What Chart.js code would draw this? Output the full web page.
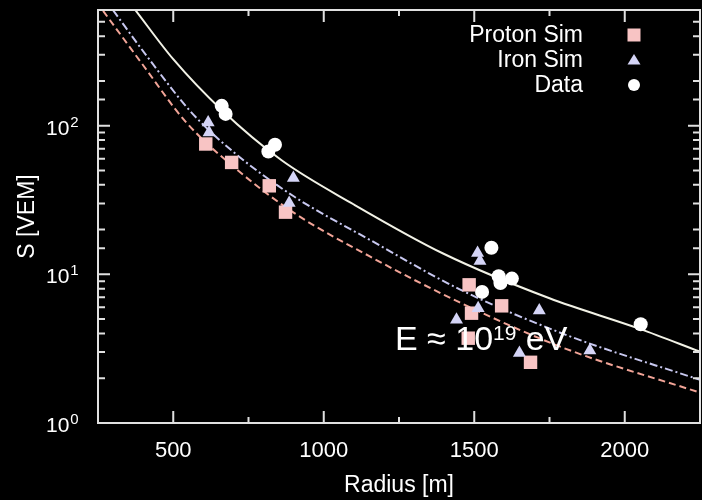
<!DOCTYPE html>
<html>
<head>
<meta charset="utf-8">
<script src="https://cdn.jsdelivr.net/npm/chart.js@4.4.1/dist/chart.umd.min.js"></script>
<style>
  html, body { margin: 0; padding: 0; background: #000; overflow: hidden; }
  #wrap { width: 702px; height: 500px; }
</style>
</head>
<body>
<div id="wrap"><canvas id="ldf"></canvas></div>
<script>
// Simulated and measured signals, radius in m, S in VEM
var protonR = [608, 694, 819, 873, 1483, 1491, 1591, 1480, 1687];
var protonS = [75.3, 56.6, 39.4, 26.2, 8.5, 5.48, 6.14, 3.72, 2.56];

var ironR = [616, 619, 899, 885, 1511, 1519, 1441, 1513, 1716, 1650, 1884];
var ironS = [105, 90, 44.4, 30.2, 13.9, 12.3, 4.94, 5.92, 5.71, 2.96, 3.07];

var dataR = [661, 674, 838, 816, 1557, 1581, 1587, 1625, 1526, 2053];
var dataS = [136, 120, 74.5, 67.1, 15.1, 9.7, 8.73, 9.36, 7.62, 4.62];

// fitted lateral distribution curves
var protonFitR = [267, 400, 540, 700, 900, 1150, 1450, 1800, 2250];
var protonFitS = [592, 255, 107, 53, 26, 13.3, 6.5, 3.18, 1.60];

var ironFitR = [300, 420, 560, 700, 900, 1150, 1450, 1800, 2250];
var ironFitS = [598, 280, 123, 66.5, 33.5, 17.2, 7.96, 3.95, 1.95];

var dataFitR = [372, 500, 660, 860, 1100, 1400, 1750, 2050, 2250];
var dataFitS = [607, 280, 128, 58.5, 29.5, 13.7, 6.9, 4.30, 3.02];

var xTicks = [500, 1000, 1500, 2000];
var yTickExp = [0, 1, 2];

var legendNames = ['Proton Sim', 'Iron Sim', 'Data'];

var FONT = '"Liberation Sans", Arial, Helvetica, sans-serif';

var protonColor = '#f8c4c4';
var protonLine = '#f2a497';
var ironColor = '#d4d4f6';
var ironLine = '#c8c8f0';
var dataColor = '#ffffff';
var dataLine = '#f2f2e6';

function toPts(xs, ys) {
    return xs.map(function (x, i) { return {x: x, y: ys[i]}; });
}

// black page background
var bgPlugin = {
    id: 'bg',
    beforeDraw: function (chart) {
        var ctx = chart.ctx;
        ctx.save();
        ctx.fillStyle = '#000';
        ctx.fillRect(0, 0, chart.width, chart.height);
        ctx.restore();
    }
};

// frame, inward ticks on four sides, tick labels
var framePlugin = {
    id: 'frame',
    afterDatasetsDraw: function (chart) {
        var ctx = chart.ctx;
        var a = chart.chartArea;
        var xs = chart.scales.x;
        var ys = chart.scales.y;
        ctx.save();
        ctx.strokeStyle = '#e0e0e0';
        ctx.lineWidth = 2;
        ctx.strokeRect(a.left, a.top, a.right - a.left, a.bottom - a.top);

        ctx.beginPath();
        xs.ticks.forEach(function (t) {
            var px = xs.getPixelForValue(t.value);
            var len = (t.value % 500 === 0) ? 12 : 6;
            ctx.moveTo(px, a.bottom);
            ctx.lineTo(px, a.bottom - len);
            ctx.moveTo(px, a.top);
            ctx.lineTo(px, a.top + len);
        });
        ys.ticks.forEach(function (t) {
            var py = ys.getPixelForValue(t.value);
            var lg = Math.log10(t.value);
            var len = Math.abs(lg - Math.round(lg)) < 1e-6 ? 12 : 7;
            ctx.moveTo(a.left, py);
            ctx.lineTo(a.left + len, py);
            ctx.moveTo(a.right, py);
            ctx.lineTo(a.right - len, py);
        });
        ctx.stroke();

        ctx.fillStyle = '#fff';
        // x tick labels
        ctx.font = '22px ' + FONT;
        ctx.textAlign = 'center';
        ctx.textBaseline = 'middle';
        xTicks.forEach(function (v) {
            ctx.fillText(String(v), xs.getPixelForValue(v), a.bottom + 28);
        });

        // y tick labels 10^n
        ctx.textAlign = 'left';
        ctx.textBaseline = 'alphabetic';
        yTickExp.forEach(function (e) {
            var py = ys.getPixelForValue(Math.pow(10, e));
            ctx.font = '21px ' + FONT;
            ctx.fillText('10', 46, py + 9);
            var w = ctx.measureText('10').width;
            ctx.font = '15px ' + FONT;
            ctx.fillText(String(e), 46 + w + 1, py + 1);
        });
        ctx.restore();
    },
    afterDraw: function (chart) {
        var ctx = chart.ctx;
        ctx.save();
        // legend: text right aligned, marker on the right
        var rows = [35, 60, 85];
        ctx.font = '23px ' + FONT;
        ctx.fillStyle = '#fff';
        ctx.textAlign = 'right';
        ctx.textBaseline = 'middle';
        legendNames.forEach(function (name, i) {
            ctx.fillText(name, 583, rows[i] + 1);
        });
        var mx = 634;
        ctx.fillStyle = protonColor;
        ctx.fillRect(mx - 6.5, rows[0] - 6.5, 13, 13);
        ctx.fillStyle = ironColor;
        ctx.beginPath();
        ctx.moveTo(mx, rows[1] - 6);
        ctx.lineTo(mx + 6.5, rows[1] + 4.5);
        ctx.lineTo(mx - 6.5, rows[1] + 4.5);
        ctx.closePath();
        ctx.fill();
        ctx.fillStyle = dataColor;
        ctx.beginPath();
        ctx.arc(mx, rows[2], 6, 0, Math.PI * 2);
        ctx.fill();

        // energy note
        ctx.fillStyle = '#fff';
        ctx.textAlign = 'left';
        ctx.textBaseline = 'alphabetic';
        var x0 = 395, base = 350;
        ctx.font = '34px ' + FONT;
        var s1 = 'E \u2248 10';
        ctx.fillText(s1, x0, base);
        var x1 = x0 + ctx.measureText(s1).width;
        ctx.font = '21px ' + FONT;
        ctx.fillText('19', x1, base - 10);
        var x2 = x1 + ctx.measureText('19').width;
        ctx.font = '34px ' + FONT;
        ctx.fillText(' eV', x2, base);
        ctx.restore();
    }
};

var ctx = document.getElementById('ldf').getContext('2d');

var chart = new Chart(ctx, {
    type: 'scatter',
    data: {
        datasets: [
            {
                label: 'Proton fit',
                data: toPts(protonFitR, protonFitS),
                showLine: true,
                borderColor: protonLine,
                borderWidth: 2,
                borderDash: [7, 4],
                pointRadius: 0,
                cubicInterpolationMode: 'monotone',
                order: 5
            },
            {
                label: 'Iron fit',
                data: toPts(ironFitR, ironFitS),
                showLine: true,
                borderColor: ironLine,
                borderWidth: 2,
                borderDash: [8, 3, 2, 3],
                pointRadius: 0,
                cubicInterpolationMode: 'monotone',
                order: 4
            },
            {
                label: 'Data fit',
                data: toPts(dataFitR, dataFitS),
                showLine: true,
                borderColor: dataLine,
                borderWidth: 2,
                pointRadius: 0,
                cubicInterpolationMode: 'monotone',
                order: 3
            },
            {
                label: 'Proton Sim',
                data: toPts(protonR, protonS),
                pointStyle: 'rect',
                pointRadius: 9.5,
                backgroundColor: protonColor,
                borderWidth: 0,
                order: 2
            },
            {
                label: 'Iron Sim',
                data: toPts(ironR, ironS),
                pointStyle: 'triangle',
                pointRadius: 7.5,
                backgroundColor: ironColor,
                borderWidth: 0,
                order: 1
            },
            {
                label: 'Data',
                data: toPts(dataR, dataS),
                pointStyle: 'circle',
                pointRadius: 7,
                backgroundColor: dataColor,
                borderWidth: 0,
                order: 0
            }
        ]
    },
    options: {
        responsive: true,
        maintainAspectRatio: false,
        animation: false,
        events: [],
        layout: {
            autoPadding: false,
            padding: {top: 10, right: 2, left: 0, bottom: 0}
        },
        plugins: {
            legend: {display: false},
            tooltip: {enabled: false}
        },
        scales: {
            x: {
                type: 'linear',
                min: 250,
                max: 2250,
                grid: {display: false, drawTicks: false},
                border: {display: false},
                ticks: {stepSize: 250, display: false},
                title: {
                    display: true,
                    text: 'Radius [m]',
                    color: '#fff',
                    font: {family: FONT, size: 23},
                    padding: {top: 0, bottom: 1}
                },
                afterFit: function (scale) { scale.height = 77; }
            },
            y: {
                type: 'logarithmic',
                min: 1,
                max: 600,
                grid: {display: false, drawTicks: false},
                border: {display: false},
                ticks: {display: false},
                title: {
                    display: true,
                    text: 'S [VEM]',
                    color: '#fff',
                    font: {family: FONT, size: 23},
                    padding: {top: 14, bottom: 0}
                },
                afterFit: function (scale) { scale.width = 98; }
            }
        }
    },
    plugins: [bgPlugin, framePlugin]
});
</script>
</body>
</html>
